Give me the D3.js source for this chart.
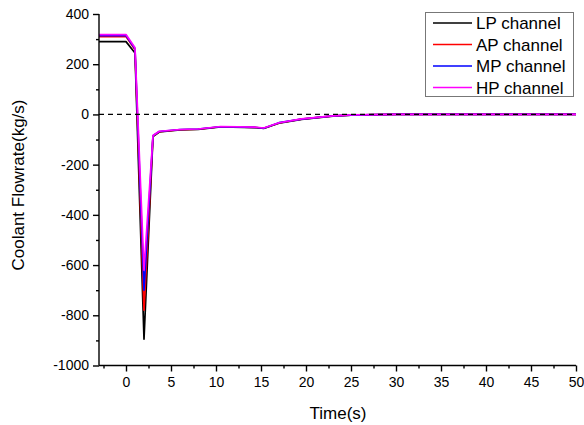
<!DOCTYPE html>
<html>
<head>
<meta charset="utf-8">
<script src="https://cdn.jsdelivr.net/npm/d3@7"></script>
<style>
  html, body { margin: 0; padding: 0; background: #fff; }
  svg { display: block; }
  text { font-family: "Liberation Sans", Arial, sans-serif; fill: #000; }
</style>
</head>
<body>
<svg id="chart" width="584" height="425"></svg>
<script>
// ---- data ----
const time = [-3, 0, 1.0, 2.0, 3.0, 3.7, 6, 8, 10.5, 14.5, 15.3, 17, 19.5, 23, 25, 28, 30, 50];
const lpChannel = [290, 290, 245, -895, -88, -70, -62, -60, -50, -53, -56, -35, -20, -7, -3, -1, 0, 0];
const apChannel = [310, 310, 258, -780, -86, -69, -61, -59, -49, -52, -55, -34, -19, -6, -3, -1, 0, 0];
const mpChannel = [314, 314, 262, -700, -85, -68, -60, -58, -49, -52, -55, -33, -19, -6, -3, -1, 0, 0];
const hpChannel = [318, 318, 266, -620, -84, -67, -60, -58, -48, -51, -54, -33, -18, -6, -2, -1, 0, 0];
const seriesNames = ["LP channel", "AP channel", "MP channel", "HP channel"];
const seriesColors = ["#000000", "#ff0000", "#0000ff", "#ff00ff"];
const xMajorTicks = [0, 5, 10, 15, 20, 25, 30, 35, 40, 45, 50];
const xMinorTicks = [-2.5, 2.5, 7.5, 12.5, 17.5, 22.5, 27.5, 32.5, 37.5, 42.5, 47.5];
const yMajorTicks = [-1000, -800, -600, -400, -200, 0, 200, 400];
const yMinorTicks = [-900, -700, -500, -300, -100, 100, 300];
const xTitle = "Time(s)";
const yTitle = "Coolant Flowrate(kg/s)";

const seriesValues = [lpChannel, apChannel, mpChannel, hpChannel];

const svg = d3.select("#chart");
const x = d3.scaleLinear().domain([-3, 50]).range([99, 576]);
const y = d3.scaleLinear().domain([-1000, 400]).range([365.5, 14]);
const fmt = d => String(d); // plain hyphen-minus like the reference

// ---- series lines ----
const line = d3.line().x(d => x(d[0])).y(d => y(d[1]));
seriesValues.forEach((vals, i) => {
  svg.append("path")
    .datum(time.map((t, j) => [t, vals[j]]))
    .attr("fill", "none")
    .attr("stroke", seriesColors[i])
    .attr("stroke-width", 1.7)
    .attr("stroke-linejoin", "round")
    .attr("d", line);
});

// ---- zero reference line (dashed) ----
svg.append("line")
  .attr("x1", x(-3)).attr("x2", x(50))
  .attr("y1", y(0)).attr("y2", y(0))
  .attr("stroke", "#000").attr("stroke-width", 1.3)
  .attr("stroke-dasharray", "5,4");

// ---- axes ----
const xAxis = svg.append("g").attr("transform", `translate(0,${y(-1000)})`)
  .call(d3.axisBottom(x).tickValues(xMajorTicks).tickSize(6).tickPadding(6).tickFormat(fmt));
const xMinor = svg.append("g").attr("transform", `translate(0,${y(-1000)})`)
  .call(d3.axisBottom(x).tickValues(xMinorTicks).tickSize(3).tickFormat(""));
const yAxis = svg.append("g").attr("transform", `translate(${x(-3)},0)`)
  .call(d3.axisLeft(y).tickValues(yMajorTicks).tickSize(6).tickPadding(4).tickFormat(fmt));
const yMinor = svg.append("g").attr("transform", `translate(${x(-3)},0)`)
  .call(d3.axisLeft(y).tickValues(yMinorTicks).tickSize(3).tickFormat(""));

[xAxis, xMinor, yAxis, yMinor].forEach(g => {
  g.select(".domain").attr("stroke", "#000").attr("stroke-width", 1.4);
  g.selectAll(".tick line").attr("stroke", "#000").attr("stroke-width", 1.4);
  g.selectAll(".tick text").attr("font-size", 14).attr("font-family", '"Liberation Sans", Arial, sans-serif').attr("fill", "#000");
});
xMinor.select(".domain").remove();
yMinor.select(".domain").remove();
xAxis.select(".domain").attr("d", `M${x(-3)},0H${x(50)}`);
yAxis.select(".domain").attr("d", `M0,${y(400)}V${y(-1000)}`);

// ---- axis titles ----
svg.append("text")
  .attr("x", 338).attr("y", 419)
  .attr("text-anchor", "middle")
  .attr("font-size", 17)
  .text(xTitle);
svg.append("text")
  .attr("transform", "translate(24,185) rotate(-90)")
  .attr("text-anchor", "middle")
  .attr("font-size", 17)
  .text(yTitle);

// ---- legend ----
const legend = svg.append("g");
legend.append("rect")
  .attr("x", 425.5).attr("y", 12.5).attr("width", 148).attr("height", 84)
  .attr("fill", "#fff").attr("stroke", "#777").attr("stroke-width", 1);
seriesNames.forEach((name, i) => {
  const cy = 23 + i * 21.5;
  legend.append("line")
    .attr("x1", 433).attr("x2", 472).attr("y1", cy).attr("y2", cy)
    .attr("stroke", seriesColors[i]).attr("stroke-width", 1.6);
  legend.append("text")
    .attr("x", 476).attr("y", cy + 6)
    .attr("font-size", 17)
    .text(name);
});
</script>
</body>
</html>
